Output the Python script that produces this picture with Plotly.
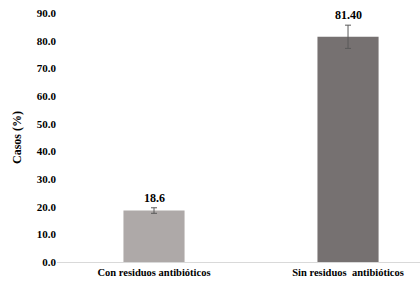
import plotly.graph_objects as go

categories = ["Con residuos antibióticos", "Sin residuos  antibióticos"]
values = [18.6, 81.40]
errors = [1.0, 4.2]
value_labels = ["18.6", "81.40"]
colors = ["#AEA9A8", "#767171"]
y_ticks = [0, 10, 20, 30, 40, 50, 60, 70, 80, 90]

font_family = "Liberation Serif"

fig = go.Figure()
fig.add_trace(go.Bar(
    x=[0, 1], y=values, width=0.315,
    marker=dict(color=colors, line=dict(width=0)),
    error_y=dict(type="data", array=errors, visible=True, color="#595959", thickness=1, width=3),
))
for i, (v, e, t) in enumerate(zip(values, errors, value_labels)):
    fig.add_annotation(x=i, y=v + e, text="<b>%s</b>" % t, showarrow=False,
                       yanchor="bottom", yshift=1,
                       font=dict(family=font_family, size=12, color="#000000"))

fig.update_layout(
    width=420, height=291,
    margin=dict(l=57, r=0, t=13, b=29),
    paper_bgcolor="white", plot_bgcolor="white",
    showlegend=False,
    font=dict(family=font_family, color="#000000"),
    xaxis=dict(
        range=[-0.5, 1.371], tickmode="array", tickvals=[0, 1],
        ticktext=["<b>%s</b>" % c for c in categories],
        showline=True, linecolor="#D9D9D9", linewidth=1, ticks="",
        showgrid=False, zeroline=False,
        tickfont=dict(family=font_family, size=10.5, color="#000000"),
    ),
    yaxis=dict(
        range=[0, 90], tickmode="array", tickvals=y_ticks,
        ticktext=["<b>%.1f</b>" % v for v in y_ticks],
        showgrid=False, zeroline=False, showline=False, ticks="",
        tickfont=dict(family=font_family, size=11, color="#000000"),
        title=dict(text="<b>Casos (%)</b>", font=dict(family=font_family, size=12, color="#000000"), standoff=12),
    ),
)

fig.write_html("out.html")
